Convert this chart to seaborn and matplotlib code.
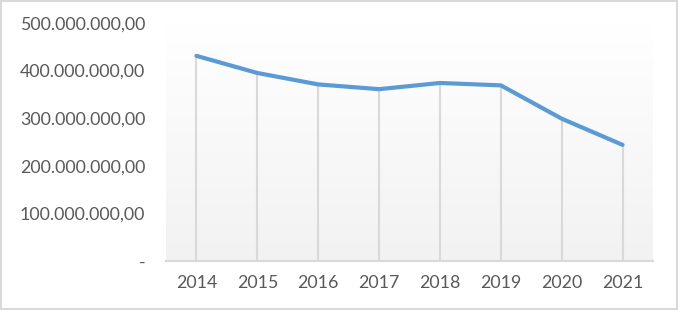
import numpy as np
import matplotlib
matplotlib.use("Agg")
import matplotlib.pyplot as plt
import matplotlib.ticker as mticker
from matplotlib.patches import Rectangle
import seaborn as sns

years = ["2014", "2015", "2016", "2017", "2018", "2019", "2020", "2021"]
values = [431e6, 395e6, 371e6, 361e6, 374e6, 369e6, 299e6, 244e6]
yticks = [0, 100e6, 200e6, 300e6, 400e6, 500e6]

sns.set_theme(style="white")
plt.rcParams['font.family'] = ['Lato', 'DejaVu Sans']

fig = plt.figure(figsize=(6.78, 3.10), dpi=100)
ax = fig.add_axes([166/678, (310-261)/310, (653-166)/678, (261-23)/310])

# gradient background
grad = np.linspace(1, 0, 256).reshape(-1, 1)
ax.imshow(grad, cmap=matplotlib.colors.LinearSegmentedColormap.from_list(
    "g", ["#f2f2f2", "#ffffff"]), aspect="auto", extent=[0, 1, 0, 1],
    transform=ax.transAxes, zorder=0, vmin=0, vmax=1)

x = np.arange(len(years))
ax.vlines(x, 0, values, color="#d9d9d9", lw=1.5, zorder=1)
sns.lineplot(x=x, y=values, ax=ax, color="#5b9bd5", lw=3, zorder=3,
             solid_capstyle="round", solid_joinstyle="round")

ax.set_xlim(-0.5, len(years) - 0.5)
ax.set_ylim(0, 500e6)
ax.set_xticks(x)
ax.set_xticklabels(years)
ax.set_yticks(yticks)

def fmt(v, pos):
    if v == 0:
        return "-"
    s = f"{v:,.2f}"
    return s.replace(",", "X").replace(".", ",").replace("X", ".")

ax.yaxis.set_major_formatter(mticker.FuncFormatter(fmt))
ax.tick_params(axis="y", length=0, pad=15, labelsize=12.8, labelcolor="#595959")
ax.tick_params(axis="x", length=0, pad=10, labelsize=12.8, labelcolor="#595959")
for s in ["top", "right", "left"]:
    ax.spines[s].set_visible(False)
ax.spines["bottom"].set_color("#d9d9d9")
ax.spines["bottom"].set_linewidth(1.5)
ax.set_xlabel("")
ax.set_ylabel("")
ax.grid(False)

fig.patches.append(Rectangle((1/678, 1/310), 676/678, 308/310, transform=fig.transFigure,
                             fill=False, edgecolor="#d9d9d9", lw=1.5))

fig.savefig("out.png", dpi=100, facecolor="white")
